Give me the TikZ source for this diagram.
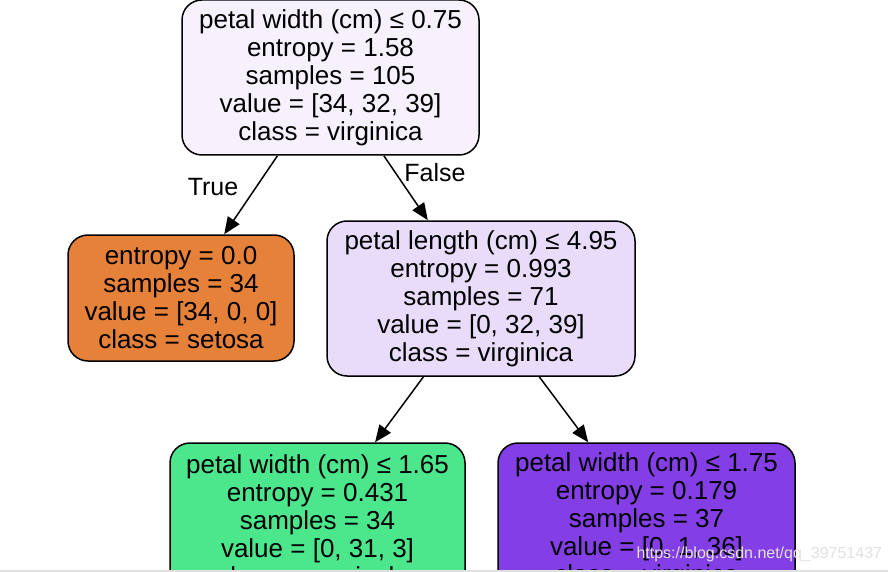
\documentclass[tikz,border=0pt]{standalone}
\usepackage{fontspec}
\setmainfont{Liberation Sans}
\usepackage{tikz}
\usetikzlibrary{arrows.meta}

\definecolor{rootfill}{HTML}{F6F1FD}
\definecolor{splitfill}{HTML}{E8DCFA}
\definecolor{setosafill}{HTML}{E58139}
\definecolor{versifill}{HTML}{4CE78D}
\definecolor{virgifill}{HTML}{843EE6}
\definecolor{wmark}{HTML}{E2E2E2}

\tikzset{
  tree/.style={draw,line width=1.5pt,rounded corners=20pt,align=center,
    inner sep=0pt,font=\fontsize{26}{28}\selectfont},
  edge/.style={line width=1.5pt,-{Triangle[length=17pt,width=14pt]}},
  lbl/.style={font=\fontsize{25}{28}\selectfont}
}

\begin{document}
\begin{tikzpicture}[x=1pt,y=-1pt]
    \useasboundingbox (0,0) rectangle (888,572);
    \clip (0,0) rectangle (888,572);
    \fill[white] (0,0) rectangle (888,572);

    \begin{scope}
    \node[tree,fill=rootfill,minimum width=297pt,minimum height=155pt] (root) at (330.5,77.5)
      {petal width (cm) ≤ 0.75\\entropy = 1.58\\samples = 105\\value = [34, 32, 39]\\class = virginica};
    \node[tree,fill=setosafill,minimum width=226pt,minimum height=126pt] (setosa) at (181,298)
      {entropy = 0.0\\samples = 34\\value = [34, 0, 0]\\class = setosa};
    \node[tree,fill=splitfill,minimum width=308pt,minimum height=155pt] (split) at (481,298.5)
      {petal length (cm) ≤ 4.95\\entropy = 0.993\\samples = 71\\value = [0, 32, 39]\\class = virginica};
    \node[tree,fill=versifill,minimum width=295pt,minimum height=155pt] (versicolor) at (317.5,520.5)
      {petal width (cm) ≤ 1.65\\entropy = 0.431\\samples = 34\\value = [0, 31, 3]\\class = versicolor};
    \node[tree,fill=virgifill,minimum width=297pt,minimum height=155pt] (virginica) at (646.5,520.5)
      {petal width (cm) ≤ 1.75\\entropy = 0.179\\samples = 37\\value = [0, 1, 36]\\class = virginica};

    \draw[edge] (root) -- (setosa);
    \draw[edge] (root) -- (split);
    \draw[edge] (split) -- (versicolor);
    \draw[edge] (split) -- (virginica);

    \node[lbl] (truelbl) at (213,187) {True};
    \node[lbl] (falselbl) at (435,173) {False};
    \end{scope}

    % page edges and watermark
    \fill[black!12] (0,569.5) rectangle (888,572);
    \node[wmark,font=\fontsize{16}{18}\selectfont,anchor=base west] (wm) at (633,558)
      {https://blog.csdn.net/qq\_39751437};
\end{tikzpicture}
\end{document}
